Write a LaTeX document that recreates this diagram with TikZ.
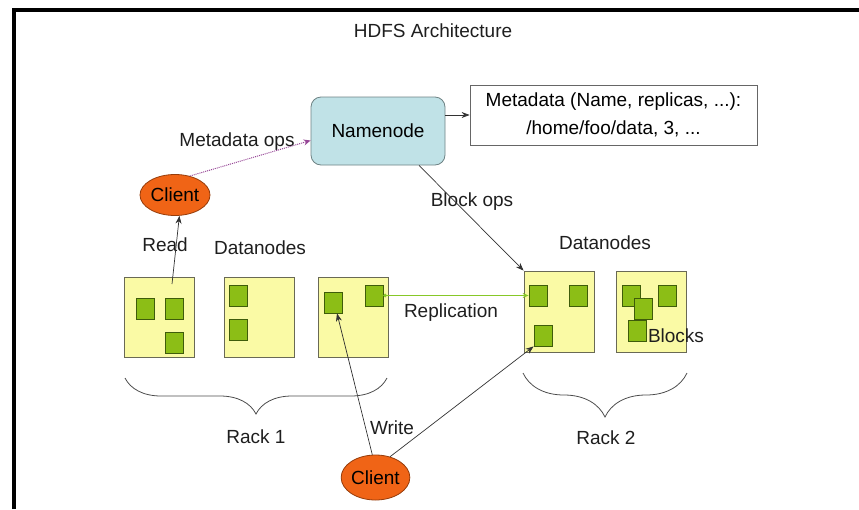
\documentclass[tikz,border=0pt]{standalone}
\usepackage{fontspec}
\setmainfont{Liberation Sans}
\usepackage{xcolor}
\usepackage{tikz}
\usetikzlibrary{arrows.meta,positioning,calc,shapes.geometric,decorations.pathreplacing}
\definecolor{nnfill}{RGB}{192,226,231}
\definecolor{nnline}{RGB}{110,130,132}
\definecolor{dnfill}{RGB}{250,250,165}
\definecolor{dnline}{RGB}{105,105,85}
\definecolor{blkfill}{RGB}{140,190,22}
\definecolor{blkline}{RGB}{62,92,10}
\definecolor{clfill}{RGB}{240,100,22}
\definecolor{clline}{RGB}{150,60,10}
\definecolor{mdline}{RGB}{150,70,150}
\definecolor{replline}{RGB}{135,200,40}
\definecolor{txt}{RGB}{30,30,30}
\tikzset{
  nnbox/.style={rectangle,rounded corners=10pt,draw=nnline,fill=nnfill,line width=.8pt,minimum width=134pt,minimum height=68pt},
  metabox/.style={rectangle,draw=black!60,line width=.8pt,minimum width=287pt,minimum height=60pt,align=center,font=\fontsize{19}{28}\selectfont},
  dnode/.style={rectangle,draw=dnline,fill=dnfill,line width=.8pt,minimum width=70pt,minimum height=80pt},
  dblock/.style={rectangle,draw=blkline,fill=blkfill,line width=.8pt,minimum width=18pt,minimum height=21pt,inner sep=0pt},
  clientnode/.style={ellipse,draw=clline,fill=clfill,line width=.8pt,inner sep=0pt},
  conn/.style={-{Stealth[length=8pt,width=6pt]},line width=.7pt,draw=black!80},
  mdconn/.style={-{Stealth[length=7pt,width=6pt]},densely dotted,line width=1pt,draw=mdline},
  replconn/.style={{Circle[length=3.5pt]}-{Stealth[length=6pt,width=5pt]},line width=1.3pt,draw=replline},
  rackbrace/.style={decorate,decoration={brace,mirror,amplitude=#1},line width=.8pt,draw=black!70},
  lbl/.style={text=txt,inner sep=1pt}
}

\begin{document}
\begin{tikzpicture}[x=1pt,y=-1pt,font=\fontsize{19}{22}\selectfont]
  \useasboundingbox (0,0) rectangle (859,509);
  % frame
  \draw[line width=4pt] (14,509) -- (14,10) -- (859,10);
  \node[lbl] (title) at (433,31) {HDFS Architecture};

  % namenode and metadata
  \node[nnbox] (nn) at (378,131) {Namenode};
  \node[metabox] (meta) at (613.5,115) {Metadata (Name, replicas, ...):\\/home/foo/data, 3, ...};

  % clients
  \node[clientnode,minimum width=70pt,minimum height=41pt] (cl1) at (175,195) {Client};
  \node[clientnode,minimum width=65pt,minimum height=45pt] (cl2) at (375.5,477.5) {Client};

  % datanodes
  \node[dnode] (dn1) at (159.5,317.5) {};
  \node[dnode] (dn2) at (259,317.5) {};
  \node[dnode] (dn3) at (353.5,317.5) {};
  \node[dnode,minimum height=81pt] (dn4) at (559,311.5) {};
  \node[dnode,minimum height=81pt] (dn5) at (651,311.5) {};

  % blocks
  \foreach \n/\x/\y in {1/145.5/308.5,2/174.5/308.5,3/174.5/342.5,4/238/295.5,5/238/329.5,
    6/333/302.5,7/374/295.5,8/538/295.5,9/578/295.5,10/543/335.5,
    11/631/295.5,12/667/295.5,13/643.5/308.5,14/637/330.5}
    \node[dblock] (b\n) at (\x,\y) {};

  % labels
  \node[lbl] (mdops) at (237,142) {Metadata ops};
  \node[lbl] (read) at (165,245) {Read};
  \node[lbl] (dnl1) at (260,248) {Datanodes};
  \node[lbl] (dnl2) at (605,243) {Datanodes};
  \node[lbl] (blkops) at (472,202) {Block ops};
  \node[lbl] (repl) at (451,313) {Replication};
  \node[lbl] (blks) at (676,336) {Blocks};
  \node[lbl] (write) at (392,428) {Write};

  % connectors
  \coordinate (rd) at (172,284);
  \draw[conn] (rd) -- (cl1.-78);
  \draw[mdconn] (cl1.52) -- (nn.188);
  \draw[conn] (nn.east |- meta.west) -- (meta.west);
  \draw[conn] (nn.-40) -- (dn4.north west);
  \draw[replconn] (b7.east) -- (b8.west);
  \draw[conn] (cl2.98) -- ($(b6.south)+(4,0)$);
  \draw[conn] (cl2.55) -- (b10.south west);

  % racks
  \draw[rackbrace=36pt] (125,378) -- (387,378);
  \draw[rackbrace=44pt] (523,373) -- (687,373);
  \node[lbl] (rack1) at (256,437) {Rack 1};
  \node[lbl] (rack2) at (606,438) {Rack 2};
\end{tikzpicture}
\end{document}
